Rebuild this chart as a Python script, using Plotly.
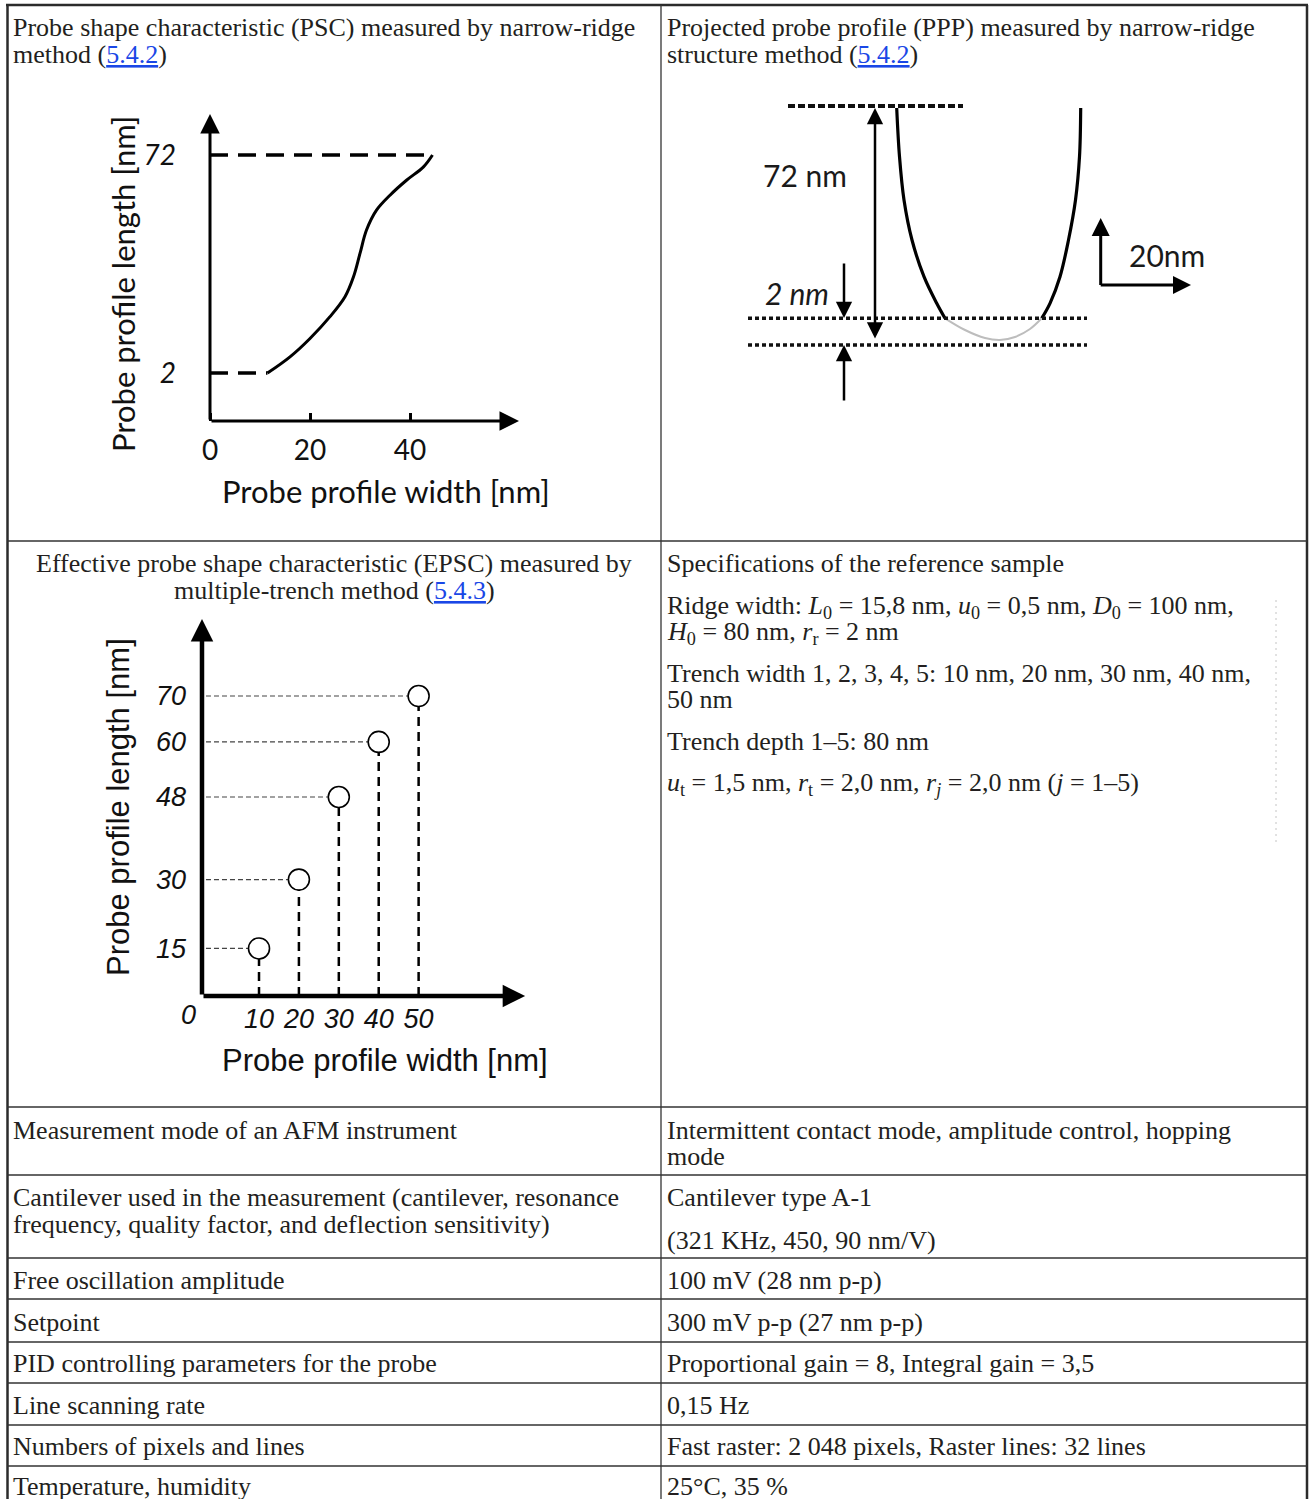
import plotly.graph_objects as go

W, H = 1311, 1499

# ---------------- data ----------------
# PSC: probe profile width [nm] vs probe profile length [nm]
psc_width = [11.5, 16.0, 20.0, 24.0, 27.0, 28.7, 30.0, 31.3, 33.3, 36.0, 39.3, 42.7, 44.5]
psc_length = [2.0, 7.2, 13.1, 20.1, 26.5, 32.9, 40.4, 47.9, 54.3, 59.1, 63.9, 68.2, 72.0]
psc_xticks = [0, 20, 40]
psc_yticks = [2, 72]

# EPSC: multiple-trench method
epsc_width = [10, 20, 30, 40, 50]
epsc_length = [15, 30, 48, 60, 70]

# PPP schematic (drawing units of the page frame)
ppp_left_x = [896.7, 899.5, 904.0, 912.0, 924.0, 936.7, 945.0]
ppp_right_x = [1080.7, 1079.5, 1075.5, 1068.5, 1060.0, 1050.0, 1041.7]
ppp_side_y = [108.0, 156.7, 200.0, 240.0, 276.7, 303.3, 318.3]
ppp_tip_x = [945.0, 965.0, 985.0, 1000.0, 1015.0, 1030.0, 1041.7]
ppp_tip_y = [318.3, 330.0, 338.0, 340.0, 337.0, 329.0, 318.3]

LINK = "<span style='color:#1a47e6'><u>{}</u></span>"

left_text = [
    (27, "Probe shape characteristic (PSC) measured by narrow-ridge"),
    (54, "method (" + LINK.format("5.4.2") + ")"),
    (1130, "Measurement mode of an AFM instrument"),
    (1197, "Cantilever used in the measurement (cantilever, resonance"),
    (1224, "frequency, quality factor, and deflection sensitivity)"),
    (1280, "Free oscillation amplitude"),
    (1322, "Setpoint"),
    (1363, "PID controlling parameters for the probe"),
    (1405, "Line scanning rate"),
    (1446, "Numbers of pixels and lines"),
    (1486, "Temperature, humidity"),
]
center_text = [
    (563, "Effective probe shape characteristic (EPSC) measured by"),
    (590, "multiple-trench method (" + LINK.format("5.4.3") + ")"),
]
right_text = [
    (27, "Projected probe profile (PPP) measured by narrow-ridge"),
    (54, "structure method (" + LINK.format("5.4.2") + ")"),
    (563, "Specifications of the reference sample"),
    (607, "Ridge width: <i>L</i><sub>0</sub> = 15,8 nm, <i>u</i><sub>0</sub> = 0,5 nm, <i>D</i><sub>0</sub> = 100 nm,"),
    (633, "<i>H</i><sub>0</sub> = 80 nm, <i>r</i><sub>r</sub> = 2 nm"),
    (673, "Trench width 1, 2, 3, 4, 5: 10 nm, 20 nm, 30 nm, 40 nm,"),
    (699, "50 nm"),
    (741, "Trench depth 1–5: 80 nm"),
    (784, "<i>u</i><sub>t</sub> = 1,5 nm, <i>r</i><sub>t</sub> = 2,0 nm, <i>r</i><sub><i>j</i></sub> = 2,0 nm (<i>j</i> = 1–5)"),
    (1130, "Intermittent contact mode, amplitude control, hopping"),
    (1156, "mode"),
    (1197, "Cantilever type A-1"),
    (1240, "(321 KHz, 450, 90 nm/V)"),
    (1280, "100 mV (28 nm p-p)"),
    (1322, "300 mV p-p (27 nm p-p)"),
    (1363, "Proportional gain = 8, Integral gain = 3,5"),
    (1405, "0,15 Hz"),
    (1446, "Fast raster: 2 048 pixels, Raster lines: 32 lines"),
    (1486, "25°C, 35 %"),
]
table_hlines = [541, 1107, 1175, 1258, 1299, 1342, 1383, 1425, 1466]

# ---------------- layout helpers ----------------
SERIF = "Liberation Serif"
TXT = "#231f20"


def dom_x(p0, p1):
    return [p0 / W, p1 / W]


def dom_y(top, bottom):
    return [1 - bottom / H, 1 - top / H]


fig = go.Figure()

# ---- PSC chart (x2/y2) ----
psc_floor = -13.4   # where the drawn x-axis sits
psc_ytop = 85.2
psc_xend = 61.8
fig.add_trace(go.Scatter(x=[0, psc_width[-1]], y=[psc_length[-1]] * 2, mode="lines",
                         line=dict(color="black", width=3.5, dash="18px,10px"),
                         xaxis="x2", yaxis="y2"))
fig.add_trace(go.Scatter(x=[0, psc_width[0]], y=[psc_length[0]] * 2, mode="lines",
                         line=dict(color="black", width=3.5, dash="18px,10px"),
                         xaxis="x2", yaxis="y2"))
fig.add_trace(go.Scatter(x=psc_width, y=psc_length, mode="lines",
                         line=dict(color="black", width=3, shape="spline", smoothing=1.0),
                         xaxis="x2", yaxis="y2"))

# ---- EPSC chart (x3/y3) ----
ep_x0 = -4.29
ep_y0 = 4.64
ep_ytop = 86.8
ep_xend = 76.7
hx, hy, vx, vy = [], [], [], []
for w, l in zip(epsc_width, epsc_length):
    hx += [ep_x0 + 1.0, w, None]
    hy += [l, l, None]
    vx += [w, w, None]
    vy += [ep_y0, l, None]
fig.add_trace(go.Scatter(x=hx, y=hy, mode="lines",
                         line=dict(color="#444", width=1.2, dash="5px,3px"),
                         xaxis="x3", yaxis="y3"))
fig.add_trace(go.Scatter(x=vx, y=vy, mode="lines",
                         line=dict(color="black", width=2.5, dash="9px,6px"),
                         xaxis="x3", yaxis="y3"))
fig.add_trace(go.Scatter(x=epsc_width, y=epsc_length, mode="markers",
                         marker=dict(symbol="circle", size=21, color="white",
                                     line=dict(color="black", width=1.6)),
                         xaxis="x3", yaxis="y3"))

# ---- PPP schematic (page frame x/y) ----
fig.add_trace(go.Scatter(x=ppp_left_x, y=ppp_side_y, mode="lines",
                         line=dict(color="black", width=3.2, shape="spline"),
                         xaxis="x", yaxis="y"))
fig.add_trace(go.Scatter(x=ppp_right_x, y=ppp_side_y, mode="lines",
                         line=dict(color="black", width=3.2, shape="spline"),
                         xaxis="x", yaxis="y"))
fig.add_trace(go.Scatter(x=ppp_tip_x, y=ppp_tip_y, mode="lines",
                         line=dict(color="#bdbdbd", width=2, shape="spline"),
                         xaxis="x", yaxis="y"))

shapes = []
# table borders
shapes.append(dict(type="line", xref="x", yref="y", x0=6, x1=1308, y0=5, y1=5,
                   line=dict(color="#2b2b2b", width=2.5)))
shapes.append(dict(type="line", xref="x", yref="y", x0=7.5, x1=7.5, y0=5, y1=H,
                   line=dict(color="#2b2b2b", width=2.5)))
shapes.append(dict(type="line", xref="x", yref="y", x0=1307, x1=1307, y0=5, y1=H,
                   line=dict(color="#2b2b2b", width=2.5)))
shapes.append(dict(type="line", xref="x", yref="y", x0=661, x1=661, y0=5, y1=H,
                   line=dict(color="#333", width=1.3)))
for yy in table_hlines:
    shapes.append(dict(type="line", xref="x", yref="y", x0=7, x1=1307, y0=yy, y1=yy,
                       line=dict(color="#333", width=1.3)))
# faint dotted line at right of specifications cell
shapes.append(dict(type="line", xref="x", yref="y", x0=1276, x1=1276, y0=600, y1=842,
                   line=dict(color="#c4c4c4", width=1, dash="2px,4px")))
# PPP dotted reference lines
shapes.append(dict(type="line", xref="x", yref="y", x0=788, x1=963, y0=106, y1=106,
                   line=dict(color="#111", width=4, dash="7px,3px")))
for yy in (318.3, 345.0):
    shapes.append(dict(type="line", xref="x", yref="y", x0=748, x1=1087, y0=yy, y1=yy,
                       line=dict(color="#111", width=3.5, dash="4px,3px")))

ann = []


def arrow(x, y, ax, ay, ref_x, ref_y, width, size=1.0, both=False):
    d = dict(x=x, y=y, ax=ax, ay=ay, xref=ref_x, yref=ref_y, axref=ref_x, ayref=ref_y,
             text="", showarrow=True, arrowhead=2, arrowwidth=width, arrowsize=size,
             arrowcolor="black", standoff=0, startstandoff=0)
    if both:
        d.update(arrowside="end+start", startarrowhead=2, startarrowsize=size)
    return d


# PSC axes
ann.append(arrow(0, psc_ytop, 0, psc_floor, "x2", "y2", 3, 1.3))
ann.append(arrow(psc_xend, psc_floor, 0, psc_floor, "x2", "y2", 3, 1.3))
# EPSC axes
ann.append(arrow(ep_x0, ep_ytop, ep_x0, ep_y0, "x3", "y3", 4.5, 1.0))
ann.append(arrow(ep_xend, ep_y0, ep_x0, ep_y0, "x3", "y3", 4.5, 1.0))
# PPP arrows
ann.append(arrow(875, 108, 875, 340, "x", "y", 2.5, 1.3, both=True))
ann.append(arrow(844, 318, 844, 262, "x", "y", 2.5, 1.3))
ann.append(arrow(844, 345, 844, 402, "x", "y", 2.5, 1.3))
ann.append(arrow(1100.7, 218, 1100.7, 286.5, "x", "y", 3, 1.2))
ann.append(arrow(1191, 285, 1099.2, 285, "x", "y", 3, 1.2))

# PPP labels
SANS = "Lato"
ann.append(dict(x=805, y=175, xref="x", yref="y", text="72 nm", showarrow=False,
                font=dict(family=SANS, size=30, color="#1a1a1a")))
ann.append(dict(x=797, y=293, xref="x", yref="y", text="<i>2 nm</i>", showarrow=False,
                font=dict(family=SANS, size=30, color="#1a1a1a")))
ann.append(dict(x=1167, y=255, xref="x", yref="y", text="20nm", showarrow=False,
                font=dict(family=SANS, size=30, color="#1a1a1a")))

# chart axis titles
ann.append(dict(x=386, y=491, xref="x", yref="y", text="Probe profile width [nm]",
                showarrow=False, font=dict(family=SANS, size=31, color="#111")))
ann.append(dict(x=123, y=284, xref="x", yref="y", text="Probe profile length [nm]",
                textangle=-90, showarrow=False, font=dict(family=SANS, size=31, color="#111")))
ARIAL = "Liberation Sans"
ann.append(dict(x=385, y=1060, xref="x", yref="y", text="Probe profile width [nm]",
                showarrow=False, font=dict(family=ARIAL, size=31, color="#111")))
ann.append(dict(x=118, y=807, xref="x", yref="y", text="Probe profile length [nm]",
                textangle=-90, showarrow=False, font=dict(family=ARIAL, size=31, color="#111")))
ann.append(dict(x=188, y=1015, xref="x", yref="y", text="<i>0</i>",
                showarrow=False, font=dict(family=ARIAL, size=27, color="#111")))

# table text
for yy, t in left_text:
    ann.append(dict(x=11, y=yy, xref="x", yref="y", text=t, showarrow=False,
                    xanchor="left", yanchor="middle", font=dict(family=SERIF, size=26, color=TXT)))
for yy, t in center_text:
    ann.append(dict(x=334, y=yy, xref="x", yref="y", text=t, showarrow=False,
                    xanchor="center", yanchor="middle", font=dict(family=SERIF, size=26, color=TXT)))
for yy, t in right_text:
    ann.append(dict(x=665, y=yy, xref="x", yref="y", text=t, showarrow=False,
                    xanchor="left", yanchor="middle", font=dict(family=SERIF, size=26, color=TXT)))

hidden = dict(visible=False, showgrid=False, zeroline=False, fixedrange=True)

fig.update_layout(
    width=W, height=H, margin=dict(l=0, r=0, t=0, b=0),
    paper_bgcolor="white", plot_bgcolor="rgba(0,0,0,0)",
    showlegend=False, hovermode=False,
    xaxis=dict(domain=[0, 1], range=[0, W], **hidden),
    yaxis=dict(domain=[0, 1], range=[H, 0], **hidden),
    # PSC
    xaxis2=dict(domain=dom_x(200, 530), range=[-2, 64], anchor="free", position=1 - 421 / H,
                showgrid=False, zeroline=False, showline=False, ticks="inside", ticklen=8,
                tickwidth=3, tickcolor="black", tickvals=psc_xticks,
                ticktext=[str(v) for v in psc_xticks], ticklabelstandoff=10,
                tickfont=dict(family=SANS, size=28, color="#111"), fixedrange=True),
    yaxis2=dict(domain=dom_y(100, 440), range=[-19.5, 89.66], anchor="free", position=208 / W,
                showgrid=False, zeroline=False, showline=False, ticks="",
                tickvals=psc_yticks, ticktext=["<i>%d</i>" % v for v in psc_yticks],
                ticklabelstandoff=32, tickfont=dict(family=SANS, size=28, color="#111"),
                fixedrange=True),
    # EPSC
    xaxis3=dict(domain=dom_x(180, 540), range=[-9.80, 80.42], anchor="free", position=1 - 996 / H,
                showgrid=False, zeroline=False, showline=False, ticks="",
                tickvals=epsc_width, ticktext=["<i>%d</i>" % v for v in epsc_width],
                ticklabelstandoff=4, tickfont=dict(family=ARIAL, size=27, color="#111"),
                fixedrange=True),
    yaxis3=dict(domain=dom_y(600, 1010), range=[1.59, 90.92], anchor="free", position=202 / W,
                showgrid=False, zeroline=False, showline=False, ticks="",
                tickvals=epsc_length, ticktext=["<i>%d</i>" % v for v in epsc_length],
                ticklabelstandoff=16, tickfont=dict(family=ARIAL, size=27, color="#111"),
                fixedrange=True),
    shapes=shapes,
    annotations=ann,
)

fig.write_html("out.html")
